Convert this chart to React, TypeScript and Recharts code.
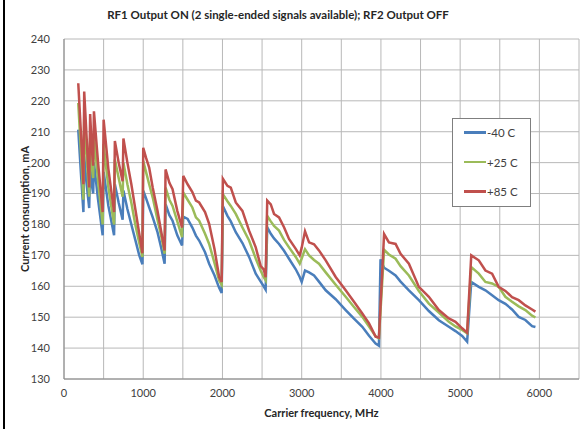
import React from 'react';
import { LineChart, Line, XAxis, YAxis, CartesianGrid, Label } from 'recharts';

// carrier frequency, MHz
const freqs = [
  180, 215, 245, 255, 290, 318, 330, 350, 368, 378, 430, 488, 500, 560, 632, 642, 690, 740,
  750, 800, 850, 900, 950, 990, 1000, 1035, 1075, 1120, 1180, 1225, 1270, 1282, 1330, 1370,
  1430, 1490, 1505, 1560, 1620, 1665, 1706, 1780, 1832, 1900, 1958, 1990, 2005, 2063, 2105,
  2168, 2252, 2336, 2420, 2483, 2520, 2545, 2565, 2610, 2651, 2714, 2777, 2840, 2925, 2975,
  3000, 3042, 3093, 3156, 3218, 3303, 3429, 3555, 3660, 3765, 3850, 3933, 3975, 3995, 4040,
  4101, 4185, 4248, 4353, 4479, 4605, 4731, 4857, 4941, 5025, 5088, 5140, 5235, 5319, 5403,
  5486, 5571, 5655, 5739, 5823, 5908, 5950,
];

// current, mA (null = no reading at that frequency)
const minus40 = [
  210.7, 196, 184, 202, 192, 185.3, 199, 193, 190, 200, 188, 176.5, 197, 186, 176.5, 193, 187, 181.5,
  191, 185, 180, 175, 170, 167.1, 190.9, 188.5, 185.5, 182.3, 177.5, 172.6, 167.3, 186.6, 183, 181.2,
  176.5, 173.2, 182.5, 181.8, 179, 176.4, 174.8, 171, 167.3, 163.5, 159.5, 157.8, 186, 182.8, 181,
  177.5, 174, 169.5, 164.1, 161.5, 160, 158.9, 179.1, 177, 175.5, 173.7, 171.5, 168.9, 165.5, 163,
  161.4, 165.1, 164.5, 163.5, 161.5, 158.7, 155.8, 152.3, 149.5, 146.9, 144, 141.5, 140.8, 168.7, 166,
  165, 163.5, 161.5, 158.7, 155.5, 152, 149, 146.9, 145.5, 143.9, 142.1, 161.4, 159.8, 158.7, 157.1,
  155.5, 154.3, 152.5, 150.1, 149.1, 147.1, 146.8,
];
const plus25 = [
  219.3, 203, 188, 214, 200, 189, 208, 199, 195, 209, 194, 180, 206, 192, 180, 201, 195, 189,
  200, 193, 187, 180, 174, 169.5, 200.5, 197, 193, 188.7, 181.5, 176.5, 170.5, 191.9, 188, 186,
  181, 175.9, 190.3, 188, 185.5, 182.3, 181.2, 177, 173.7, 167.5, 161.9, 160.5, 189.8, 187.5, 186,
  183.4, 179, 174.8, 169, 165, 163, 161.9, 182.8, 181, 179.5, 178, 175, 172.6, 169.5, 167.3,
  169, 172, 170, 168.5, 167.3, 164.5, 160.5, 156.6, 153.3, 150.1, 147, 143.8, 143.2, null, 171.8,
  170.3, 168.9, 166.5, 163.5, 158.5, 154.4, 151.5, 148.5, 147, 145.9, 144.8, 166.2, 164.1, 161.4, 160.9,
  159.8, 156.6, 155, 153.5, 152.3, 150.5, 149.9,
];
const plus85 = [
  225.7, 209, 193, 223, 206, 192, 215.7, 205, 199, 216.6, 200, 184, 213.9, 198, 184, 207, 200, 194,
  207.8, 200, 193, 185, 177, 170.7, 204.8, 201.6, 198.4, 191.9, 184.4, 178, 171.6, 197.8, 193.5, 191.4,
  184.4, 179, 195.7, 193, 190.5, 187.7, 187.1, 184, 180.2, 172, 163, 161.4, 194.8, 192.5, 191.9,
  187.1, 184.4, 178, 172.6, 166.5, 165.5, 162.9, 187.7, 186.5, 183.4, 182.3, 179.1, 175.3, 172.1, 170,
  172.5, 177.8, 174.2, 173.6, 171.6, 168.4, 163, 158.7, 155, 151.2, 148, 143.7, 143.4, null, 176.9,
  174.2, 173.7, 170.5, 167.3, 159.8, 156.6, 152.3, 149.6, 148.5, 146.4, 145, 170, 168.4, 165.1, 164.1,
  159.8, 158.5, 156.5, 155.5, 153.8, 152.5, 151.8,
];

const seriesNames = ['-40 C', '+25 C', '+85 C'];
const seriesColors = ['#4a7ebb', '#9bbb59', '#c0504d'];

const xTicks = [0, 500, 1000, 1500, 2000, 2500, 3000, 3500, 4000, 4500, 5000, 5500, 6000, 6500];
const yGrid = [130, 140, 150, 160, 170, 180, 190, 200, 210, 220, 230, 240];

const data = freqs.map((f, i) => ({ f, m40: minus40[i], p25: plus25[i], p85: plus85[i] }));

const font = 'Lato, "Open Sans", sans-serif';

const LegendBox = () => (
  <div style={{ position: 'absolute', left: 452, top: 118, width: 77, height: 87, border: '1px solid #7f7f7f', background: '#fff', fontFamily: font, fontSize: 11.5, color: '#404040' }}>
    {seriesNames.map((n, i) => (
      <div key={n} style={{ position: 'absolute', left: 11, top: 7 + i * 29.5, display: 'flex', alignItems: 'center' }}>
        <div style={{ width: 22, height: 2.5, background: seriesColors[i], marginRight: 1 }} />
        <span>{n}</span>
      </div>
    ))}
  </div>
);

export default function App() {
  return (
    <div style={{ position: 'absolute', left: 0, top: 0, width: 580, height: 429, background: '#fff', overflow: 'hidden' }}>
      <div style={{ position: 'absolute', left: 3, top: 0, width: 2, height: 429, background: '#000' }} />
      <div style={{ position: 'absolute', left: 0, top: 8, width: 556, textAlign: 'center', fontFamily: font, fontWeight: 700, fontSize: 11.5, color: '#262626' }}>
        RF1 Output ON (2 single-ended signals available); RF2 Output OFF
      </div>
      <LineChart width={580} height={429} data={data} margin={{ top: 39, right: 1, left: 8, bottom: 20 }}>
        <CartesianGrid stroke="#b8b8b8" horizontalValues={yGrid} verticalValues={xTicks} />
        <XAxis
          dataKey="f"
          type="number"
          domain={[0, 6500]}
          ticks={xTicks}
          interval={0}
          tickFormatter={(v) => (v % 1000 === 0 && v <= 6000 ? String(v) : '')}
          axisLine={{ stroke: '#868686' }}
          tickLine={false}
          tick={{ fill: '#404040', fontSize: 11, fontFamily: font }}
          height={30}
          tickMargin={4}
        >
          <Label value="Carrier frequency, MHz" position="insideBottom" offset={-8} style={{ fontFamily: font, fontWeight: 700, fontSize: 11, fill: '#262626' }} />
        </XAxis>
        <YAxis
          type="number"
          domain={[130, 240]}
          ticks={yGrid}
          interval={0}
          axisLine={{ stroke: '#868686' }}
          tickLine={false}
          tick={{ fill: '#404040', fontSize: 11, fontFamily: font }}
          width={56}
          tickMargin={8}
        >
          <Label value="Current consumption, mA" angle={-90} position="insideLeft" offset={17} style={{ textAnchor: 'middle', fontFamily: font, fontWeight: 700, fontSize: 11, fill: '#262626' }} />
        </YAxis>
        <Line dataKey="m40" name={seriesNames[0]} stroke={seriesColors[0]} strokeWidth={2.5} dot={false} connectNulls isAnimationActive={false} />
        <Line dataKey="p25" name={seriesNames[1]} stroke={seriesColors[1]} strokeWidth={2.5} dot={false} connectNulls isAnimationActive={false} />
        <Line dataKey="p85" name={seriesNames[2]} stroke={seriesColors[2]} strokeWidth={2.5} dot={false} connectNulls isAnimationActive={false} />
      </LineChart>
      <LegendBox />
    </div>
  );
}
